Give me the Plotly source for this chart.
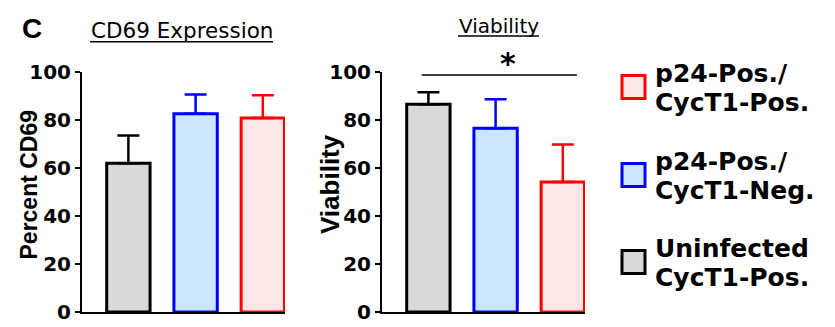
import plotly.graph_objects as go

W, H = 835, 327
OFF = 8  # page body margin offset

# ---------------- data ----------------
categories = ["Uninfected CycT1-Pos.", "p24-Pos./CycT1-Neg.", "p24-Pos./CycT1-Pos."]
legend_lines = [["Uninfected", "CycT1-Pos."], ["p24-Pos./", "CycT1-Neg."], ["p24-Pos./", "CycT1-Pos."]]
cd69_mean = [62.0, 82.6, 80.8]
cd69_err = [11.5, 8.0, 9.5]
via_mean = [86.6, 76.6, 54.2]
via_err = [5.0, 12.0, 15.6]
y_ticks = [0, 20, 40, 60, 80, 100]
panel_titles = ["CD69 Expression", "Viability"]
y_titles = ["Percent CD69", "Viability"]

# ---------------- styles ----------------
line_colors = ["#000000", "#0000ff", "#ff0000"]
fill_colors = ["#d9d9d9", "#cce6ff", "#fde6e6"]


def px(x):
    return (x - OFF) / W


def py(y):
    return 1 - (y - OFF) / H


fig = go.Figure()

for axis_i, (means, errs) in enumerate([(cd69_mean, cd69_err), (via_mean, via_err)]):
    xa = "x" if axis_i == 0 else "x2"
    ya = "y" if axis_i == 0 else "y2"
    for i in range(len(categories)):
        fig.add_trace(go.Bar(
            x=[i], y=[means[i]], width=0.645,
            marker=dict(color=fill_colors[i], line=dict(color=line_colors[i], width=3)),
            error_y=dict(type="data", symmetric=False, array=[errs[i]], arrayminus=[0],
                         color=line_colors[i], thickness=2.5, width=11),
            xaxis=xa, yaxis=ya, showlegend=False, name=categories[i],
        ))

ydom = [py(312), py(72)]
xcommon = dict(range=[-0.69, 2.33], showline=True, linecolor="black", linewidth=2,
               ticks="", showticklabels=False, showgrid=False, zeroline=False, fixedrange=True,
               automargin=False)
ycommon = dict(range=[0, 100], tickvals=y_ticks, showline=True, linecolor="black", linewidth=2,
               ticks="outside", ticklen=5, tickwidth=2, tickcolor="black",
               tickfont=dict(family="DejaVu Sans", size=20, color="black", weight="bold"),
               showgrid=False, zeroline=False, domain=ydom, automargin=False)

fig.update_layout(
    width=W, height=H,
    margin=dict(l=0, r=0, t=0, b=0, pad=0, autoexpand=False),
    paper_bgcolor="white", plot_bgcolor="white",
    barmode="overlay", showlegend=False,
    xaxis=dict(domain=[px(82), px(285)], anchor="y", **xcommon),
    yaxis=dict(anchor="x", **ycommon),
    xaxis2=dict(domain=[px(382), px(585)], anchor="y2", **xcommon),
    yaxis2=dict(anchor="x2", **ycommon),
)

ann = []
shapes = []

# panel letter
ann.append(dict(x=px(32), y=py(28), xref="paper", yref="paper", text="<b>C</b>", showarrow=False,
                font=dict(family="Liberation Sans", size=28, color="black"), xanchor="center", yanchor="middle"))

# panel titles with underline
title_pos = [(181.5, 31, 90, 273, 41.7, 21.5), (498.5, 26, 458, 539, 36, 20)]
for t, (cx, cy, ux0, ux1, uy, fs) in zip(panel_titles, title_pos):
    ann.append(dict(x=px(cx), y=py(cy), xref="paper", yref="paper", text=t, showarrow=False,
                    font=dict(family="DejaVu Sans", size=fs, color="black"), xanchor="center", yanchor="middle"))
    shapes.append(dict(type="line", xref="paper", yref="paper", x0=px(ux0), x1=px(ux1), y0=py(uy), y1=py(uy),
                       line=dict(color="black", width=1.5)))

# y titles
ann.append(dict(x=px(28), y=py(184.5), xref="paper", yref="paper", text="<b>" + y_titles[0] + "</b>",
                showarrow=False, textangle=-90,
                font=dict(family="Liberation Sans", size=23, color="black"), xanchor="center", yanchor="middle"))
ann.append(dict(x=px(330), y=py(184), xref="paper", yref="paper", text="<b>" + y_titles[1] + "</b>",
                showarrow=False, textangle=-90,
                font=dict(family="Liberation Sans", size=26, color="black"), xanchor="center", yanchor="middle"))

# significance line and asterisk
shapes.append(dict(type="line", xref="x2", yref="y2", x0=-0.1, x1=2.21, y0=98.7, y1=98.7,
                   line=dict(color="black", width=1.5)))
ann.append(dict(x=px(508), y=py(64), xref="paper", yref="paper", text="<b>*</b>", showarrow=False,
                font=dict(family="DejaVu Sans", size=30, color="black"), xanchor="center", yanchor="middle"))

# custom legend (top to bottom: red, blue, gray)
legend_centers = {2: 87, 1: 175, 0: 262}
for i, cy in legend_centers.items():
    shapes.append(dict(type="rect", xref="paper", yref="paper", x0=px(622), x1=px(645),
                       y0=py(cy - 11.5), y1=py(cy + 11.5),
                       fillcolor=fill_colors[i], line=dict(color=line_colors[i], width=3)))
    for k, txt in enumerate(legend_lines[i]):
        ann.append(dict(x=px(653), y=py(cy - 14 + 29 * k), xref="paper", yref="paper", text="<b>" + txt + "</b>",
                        showarrow=False, font=dict(family="DejaVu Sans", size=25, color="black"),
                        xanchor="left", yanchor="middle"))

fig.update_layout(annotations=ann, shapes=shapes)
fig.write_html("out.html")
